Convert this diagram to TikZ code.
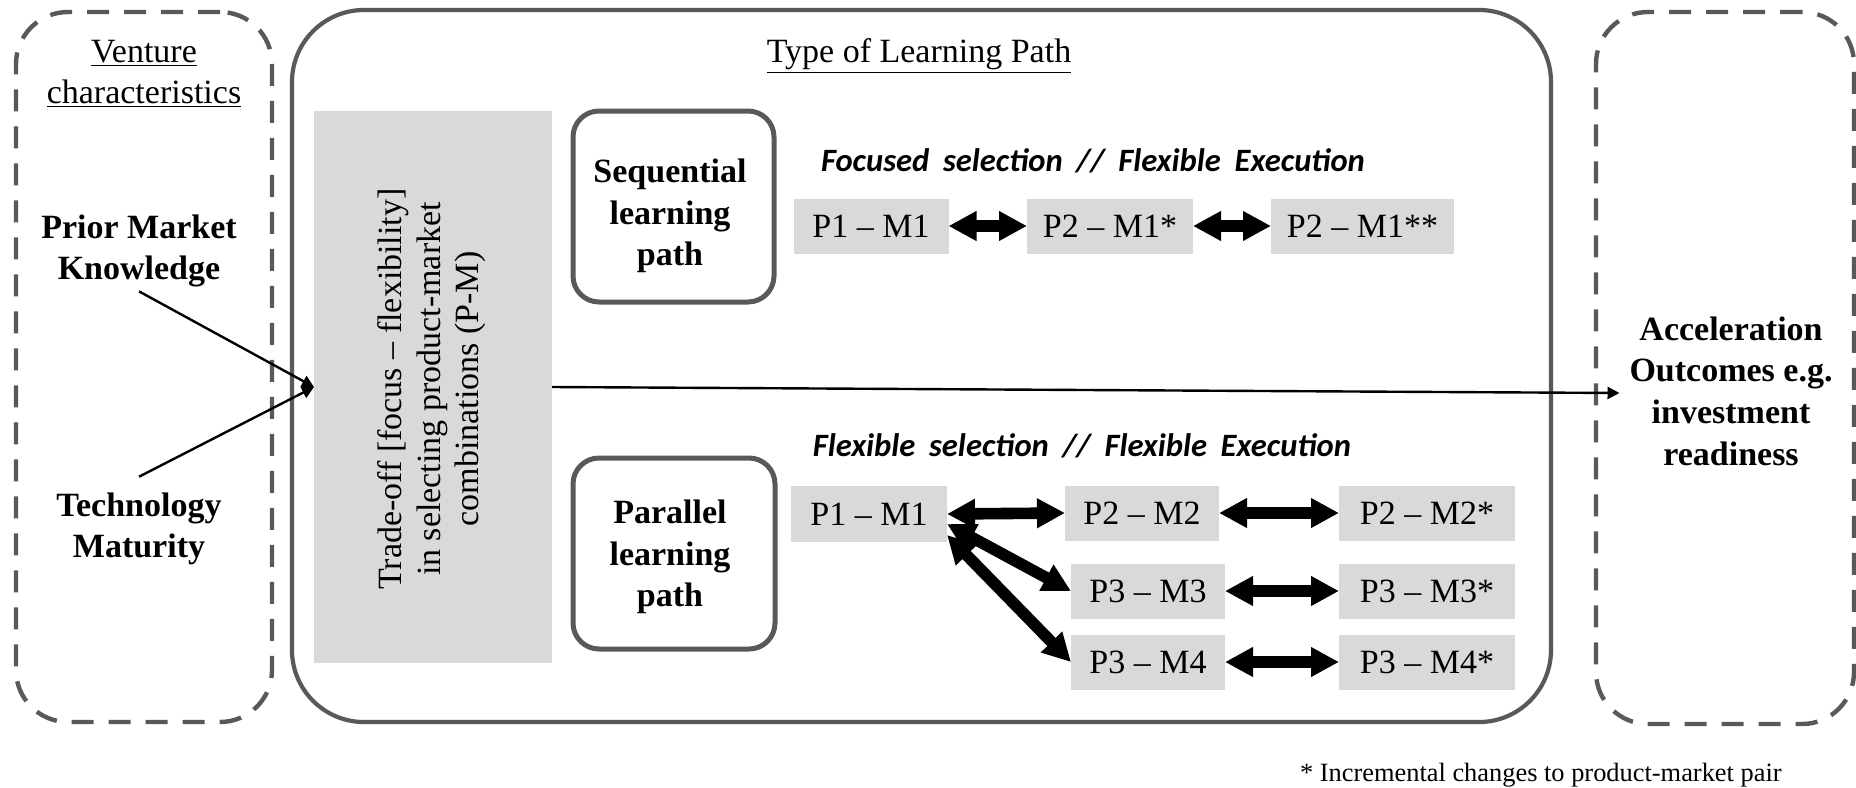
\documentclass[tikz,border=0pt]{standalone}
\usepackage{fontspec}
\setmainfont{Liberation Serif}
\newfontfamily\headfont{Carlito}
\usetikzlibrary{arrows.meta,calc}
\definecolor{edgegray}{RGB}{89,89,89}
\definecolor{pmgray}{RGB}{217,217,217}
\newcommand\bodysize{\fontsize{17pt}{20.8pt}\selectfont}
\newcommand\tradesize{\fontsize{17pt}{19.25pt}\selectfont}
\newcommand\notesize{\fontsize{13.2pt}{16pt}\selectfont}
\newcommand\headsize{\fontsize{16.3pt}{18pt}\selectfont}
\newcommand\gap{\hspace{0.42em}}

\begin{document}
\begin{tikzpicture}[x=0.5pt,y=-0.5pt,
  every node/.style={inner sep=0pt, outer sep=0pt},
  body/.style={font=\bodysize, align=center},
  boldtext/.style={font=\bodysize\bfseries, align=center},
  heading/.style={font=\headsize\headfont\bfseries\itshape},
  dashbox/.style={draw=edgegray, line width=2.2pt, dash pattern=on 11pt off 7.5pt, rounded corners=26pt},
  mainframe/.style={draw=edgegray, line width=2.1pt, rounded corners=36pt},
  pathbox/.style={draw=edgegray, line width=2.5pt, rounded corners=13pt},
  pm/.style={fill=pmgray, font=\bodysize, minimum height=27.5pt, inner xsep=4pt},
  fat/.style={line width=5.8pt, {Triangle[length=14pt,width=14pt]}-{Triangle[length=14pt,width=14pt]}},
  thin/.style={line width=1.2pt, -{Triangle[length=6pt,width=6pt]}}
]
\useasboundingbox (0,0) rectangle (1856,787);

% outer frames
\node[dashbox, minimum width=128pt, minimum height=355pt] (venture) at (144,367) {};
\node[mainframe, minimum width=629.5pt, minimum height=356pt] (learning) at (921.5,366) {};
\node[dashbox, minimum width=129pt, minimum height=356pt] (outcome) at (1725,368) {};

% frame titles
\node[body] (venturetitle) at (144,74) {\underline{Venture}\\\underline{characteristics}};
\node[body] (learningtitle) at (919,56) {\underline{Type of Learning Path}};

% venture characteristics
\node[boldtext] (prior) at (139,251) {Prior Market\\Knowledge};
\node[boldtext] (tech) at (139,529) {Technology\\Maturity};

% trade-off block
\node[fill=pmgray, minimum width=119pt, minimum height=276pt] (trade) at (433,387) {};
\node[font=\tradesize, align=center, rotate=90] (tradetext) at (432,389)
  {Trade-off [focus -- flexibility]\\in selecting product-market\\combinations (P-M)};

% learning path boxes
\node[pathbox, minimum width=100.5pt, minimum height=95.5pt] (seq) at (673.5,206.5) {};
\node[boldtext] (seqtext) at (670,216) {Sequential\\learning\\path};
\node[pathbox, minimum width=101pt, minimum height=95.5pt] (par) at (674,553.5) {};
\node[boldtext] (partext) at (670,557) {Parallel\\learning\\path};

% sequential path
\node[heading] (seqhead) at (1093,161) {Focused\gap selection\gap//\gap Flexible\gap Execution};
\node[pm, minimum width=77.5pt] (a1) at (871,226) {P1 -- M1};
\node[pm, minimum width=83pt] (a2) at (1110,226) {P2 -- M1*};
\node[pm, minimum width=91.5pt] (a3) at (1362.5,226) {P2 -- M1**};
\draw[fat] (a1.east) -- (a2.west);
\draw[fat] (a2.east) -- (a3.west);

% parallel path
\node[heading] (parhead) at (1082,446) {Flexible\gap selection\gap//\gap Flexible\gap Execution};
\node[pm, minimum width=78pt, minimum height=28pt] (b0) at (869,514) {P1 -- M1};
\node[pm, minimum width=77pt] (b1) at (1142,513) {P2 -- M2};
\node[pm, minimum width=88pt] (b1s) at (1427,513) {P2 -- M2*};
\node[pm, minimum width=77pt] (b2) at (1148,591) {P3 -- M3};
\node[pm, minimum width=88pt] (b2s) at (1427,591) {P3 -- M3*};
\node[pm, minimum width=77pt] (b3) at (1148,662) {P3 -- M4};
\node[pm, minimum width=88pt] (b3s) at (1427,662) {P3 -- M4*};
\draw[fat] (b0.east) -- (b1.west);
\draw[fat] ([yshift=-5pt]b0.east) -- (b2.west);
\draw[fat] ([yshift=-10.5pt]b0.east) -- (b3.west);
\draw[fat] (b1.east) -- (b1s.west);
\draw[fat] (b2.east) -- (b2s.west);
\draw[fat] (b3.east) -- (b3s.west);

% outcome
\node[boldtext] (accel) at (1731,391) {Acceleration\\Outcomes e.g.\\investment\\readiness};

% influence arrows
\draw[thin] ([yshift=-2pt]prior.south) -- (trade.west);
\draw[thin] ([yshift=8pt]tech.north) -- (trade.west);
\draw[thin] (trade.east) -- ([xshift=-5pt,yshift=-1pt]accel.west);

% footnote
\node[font=\notesize, anchor=west] (note) at (1300,775) {* Incremental changes to product-market pair};
\end{tikzpicture}
\end{document}
